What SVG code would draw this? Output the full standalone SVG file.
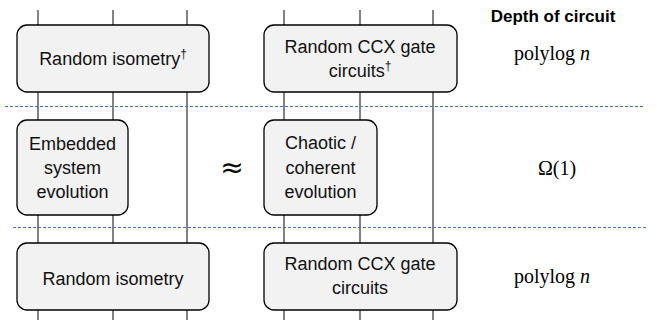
<svg xmlns="http://www.w3.org/2000/svg" width="657" height="320" viewBox="0 0 657 320">
<style>
.wire{stroke:#3f3f3f;stroke-width:1.3;fill:none}
.sep{stroke:#4472c4;stroke-width:1;stroke-dasharray:3 2;fill:none}
.box{fill:#f2f2f2;stroke:#000;stroke-width:1.3}
.lbl{font-family:"Liberation Sans",Arial,sans-serif;font-size:18px;fill:#111;text-anchor:middle}
.sup{font-size:12px}
.hdr{font-family:"Liberation Sans",Arial,sans-serif;font-size:17px;font-weight:bold;fill:#000;text-anchor:middle}
.math{font-family:"Liberation Serif","DejaVu Serif",serif;font-size:20px;fill:#000;text-anchor:middle}
</style>
<rect width="657" height="320" fill="#fff"/>
<g id="connectors">
<line class="wire" x1="38" y1="10" x2="38" y2="320"/>
<line class="wire" x1="113" y1="10" x2="113" y2="320"/>
<line class="wire" x1="187" y1="10" x2="187" y2="320"/>
<line class="wire" x1="284" y1="10" x2="284" y2="320"/>
<line class="wire" x1="360" y1="10" x2="360" y2="320"/>
<line class="wire" x1="433" y1="10" x2="433" y2="320"/>
<line class="sep" x1="5" y1="106.5" x2="643" y2="106.5"/>
<line class="sep" x1="13" y1="227.5" x2="648" y2="227.5"/>
</g>
<g id="top-left">
<rect class="box" x="17" y="25" width="192" height="67" rx="10"/>
<text class="lbl" x="113" y="65">Random isometry<tspan class="sup" dy="-7">†</tspan></text>
</g>
<g id="top-right">
<rect class="box" x="264" y="25" width="193" height="67" rx="10"/>
<text class="lbl" x="360" y="53">Random CCX gate</text>
<text class="lbl" x="360" y="77">circuits<tspan class="sup" dy="-7">†</tspan></text>
</g>
<g id="mid-left">
<rect class="box" x="17" y="120" width="111" height="95" rx="10"/>
<text class="lbl" x="72.5" y="150">Embedded</text>
<text class="lbl" x="72.5" y="174">system</text>
<text class="lbl" x="72.5" y="198">evolution</text>
</g>
<g id="mid-right">
<rect class="box" x="264" y="120" width="113" height="95" rx="10"/>
<text class="lbl" x="320.5" y="149">Chaotic /</text>
<text class="lbl" x="320.5" y="174">coherent</text>
<text class="lbl" x="320.5" y="198">evolution</text>
</g>
<g id="bottom-left">
<rect class="box" x="17" y="243" width="192" height="67" rx="10"/>
<text class="lbl" x="113" y="285">Random isometry</text>
</g>
<g id="bottom-right">
<rect class="box" x="264" y="243" width="193" height="67" rx="10"/>
<text class="lbl" x="360" y="270">Random CCX gate</text>
<text class="lbl" x="360" y="294">circuits</text>
</g>
<g id="approx">
<text x="232" y="177" font-family="DejaVu Sans,sans-serif" font-size="28" text-anchor="middle" fill="#000">≈</text>
</g>
<g id="depth">
<text class="hdr" x="553" y="22">Depth of circuit</text>
<text class="math" x="552" y="60">polylog<tspan font-style="italic"> n</tspan></text>
<text class="math" x="557" y="175">Ω(1)</text>
<text class="math" x="552" y="283">polylog<tspan font-style="italic"> n</tspan></text>
</g>
</svg>
